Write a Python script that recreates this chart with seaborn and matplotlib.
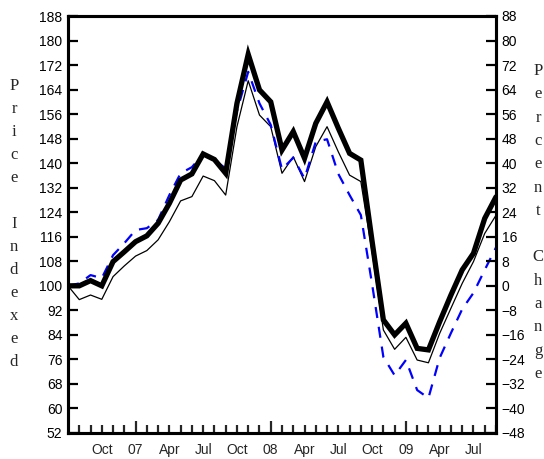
"""Price index vs percent change, Jul 2006 - Sep 2009."""

import matplotlib
matplotlib.use("Agg")
import matplotlib.pyplot as plt
import numpy as np
import pandas as pd
import seaborn as sns

# months since Jul 2006
months = list(range(39))

price_thick = [100, 100, 101.7, 100, 107.9, 111.1, 114.4, 116.3, 120.4, 126.9,
               134.5, 136.5, 143, 141.2, 136.7, 159.5, 175.5, 163.9, 160, 144.3,
               150.3, 141.6, 153, 160, 151.4, 143.2, 141, 114.5, 88.9, 84,
               87.8, 79.6, 79.1, 88.3, 97, 105.2, 110.6, 122, 129]

price_thin = [100, 95.5, 97, 95.6, 103, 106.5, 109.7, 111.5, 115, 120.9,
              127.7, 129.1, 135.8, 134.3, 129.6, 151.9, 166.9, 155.7, 151.9, 136.7,
              142.1, 134, 145.4, 151.9, 143.7, 136.1, 134, 111, 85.6, 79.3,
              83.2, 75.8, 74.9, 84.5, 92.7, 100.8, 107.9, 117.1, 123]

price_blue = [100, 100.8, 103.5, 102.5, 110, 113.9, 118.2, 118.8, 121.5, 129.6,
              136.7, 138.7, 143, 141, 138.3, 157, 169.8, 159.5, 152.5, 138,
              141.8, 135, 147, 147.8, 136.5, 129.6, 123.1, 100.5, 76.8, 70.8,
              75.8, 66, 63.4, 76.5, 84.6, 92.4, 97.7, 105.2, 112.5]

major_pos = [6, 18, 30]
major_labels = ["07", "08", "09"]
minor_labels = {3: "Oct", 9: "Apr", 12: "Jul", 15: "Oct", 21: "Apr",
                24: "Jul", 27: "Oct", 33: "Apr", 36: "Jul"}

left_title = "Price Indexed"
right_title = "Percent Change"

sns.set_style("ticks")
plt.rcParams["font.family"] = ["Liberation Sans", "DejaVu Sans"]

fig = plt.figure(figsize=(5.44, 4.59), dpi=100)
ax = fig.add_axes([68 / 544, 26 / 459, 428 / 544, 417 / 459])

df = pd.DataFrame({"month": months, "thick": price_thick,
                   "thin": price_thin, "blue": price_blue})

sns.lineplot(data=df, x="month", y="thin", ax=ax, color="black", lw=0.9)
sns.lineplot(data=df, x="month", y="blue", ax=ax, color="#0000ff", lw=1.6,
             dashes=False, linestyle=(0, (5, 4)))
sns.lineplot(data=df, x="month", y="thick", ax=ax, color="black", lw=3.8,
             solid_joinstyle="miter")

ax.set_xlim(0, 38)
ax.set_ylim(52, 188)
ax.set_yticks(np.arange(52, 189, 8))
ax.set_xlabel("")
ax.set_ylabel("")

ax.set_xticks(major_pos, major_labels)
minor_pos = [m for m in range(1, 39) if m not in major_pos]
ax.set_xticks(minor_pos, [minor_labels.get(m, "") for m in minor_pos], minor=True)

ax2 = ax.twinx()
ax2.set_ylim(-48, 88)
ax2.set_yticks(np.arange(-48, 89, 8))

for a in (ax, ax2):
    for sp in a.spines.values():
        sp.set_visible(True)
        sp.set_linewidth(2.2)
        sp.set_color("black")

ax.tick_params(axis="y", direction="in", length=7, width=1.6, pad=4,
               labelsize=10, colors="black")
ax.tick_params(axis="x", which="major", direction="in", length=9, width=1.6,
               pad=7, labelsize=10)
ax.tick_params(axis="x", which="minor", direction="in", length=6, width=1.6,
               pad=7, labelsize=10)
ax2.tick_params(axis="y", direction="in", length=7, width=1.6, pad=4,
                labelsize=10, colors="black")

# letter-stacked axis titles
def stacked(text, x_px, top_px, step_px):
    for i, ch in enumerate(text):
        if ch == " ":
            continue
        fig.text(x_px / 544, 1 - (top_px + i * step_px) / 459, ch,
                 ha="center", va="center", fontsize=12,
                 family=["Liberation Serif", "DejaVu Serif"])

stacked(left_title, 14, 86, 23)
stacked(right_title, 538, 71, 23.3)

fig.savefig("out.png", dpi=100)
